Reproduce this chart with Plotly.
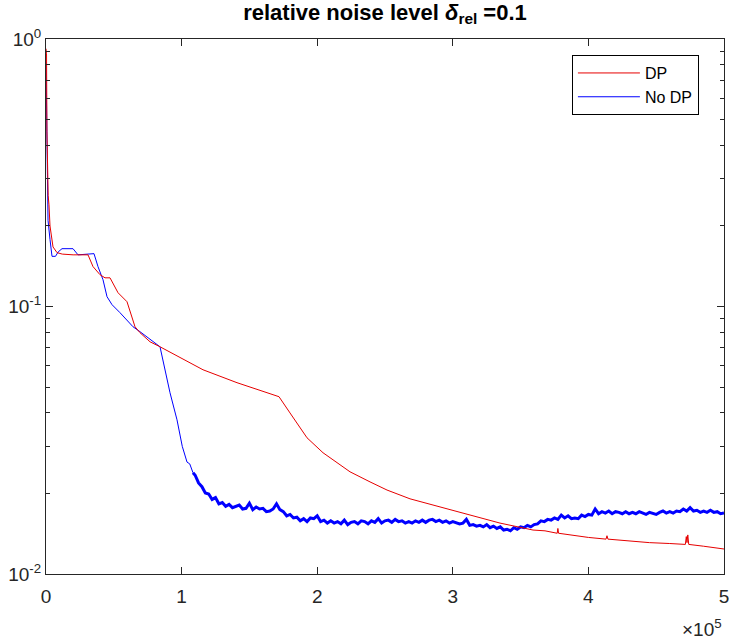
import plotly.graph_objects as go

# ---------------- data ----------------
dp_iter = [0, 400, 700, 1000, 1300, 1600, 2200, 2950, 5162, 8112, 12000, 20000, 30973,
           34661, 39823, 43510, 47198, 53097, 59734, 65634, 69322, 76696, 84071,
           115782, 140855, 171829, 179941, 192478, 204277, 216814, 224189, 238938,
           251475, 268437, 290560, 312684, 334808, 359145, 368000, 377000, 377500,
           378000, 390000, 400000, 413000, 413700, 414400, 430000, 445000, 460000,
           471500, 472200, 472700, 473300, 474000, 485000, 500000]
dp_err = [0.92, 0.88, 0.45, 0.30, 0.36, 0.26, 0.24, 0.20, 0.167, 0.159, 0.157, 0.156, 0.156,
          0.141, 0.1315, 0.128, 0.128, 0.1126, 0.1042, 0.084, 0.0798, 0.0738, 0.0707,
          0.058, 0.0519, 0.046, 0.040, 0.0323, 0.0284, 0.0256, 0.0241, 0.0221,
          0.0206, 0.0191, 0.0178, 0.0166, 0.0155, 0.0146, 0.0145, 0.0142, 0.0148,
          0.0142, 0.0139, 0.0137, 0.0135, 0.0139, 0.0135, 0.0133, 0.0131, 0.0130,
          0.0129, 0.0138, 0.0131, 0.0140, 0.0129, 0.0127, 0.0124]

# "No DP": smooth early part
nodp_iter_early = [0, 400, 740, 1500, 2950, 4425, 7000, 9000, 11800, 19912, 23599, 35398,
                   38348, 42035, 44985, 48673, 54572, 64159, 69322, 84071, 91445, 96608,
                   100500, 102507, 104000, 106000, 108407]
nodp_err_early = [0.82, 0.60, 0.30, 0.21, 0.178, 0.154, 0.154, 0.160, 0.1645, 0.1645, 0.156, 0.1576,
                  0.1409, 0.1259, 0.1088, 0.1016, 0.0948, 0.0840, 0.0805, 0.0707, 0.0476, 0.0377,
                  0.0300, 0.0279, 0.0262, 0.0258, 0.0239]

# "No DP": noisy late part (one value every 2500 iterations from 110000)
nodp_iter_late = [108407] + list(range(110000, 500001, 2500))
nodp_err_late = [0.0239,
    0.0234, 0.0219, 0.0212, 0.0201, 0.0199, 0.0190, 0.0193, 0.0183, 0.0185, 0.0179,
    0.0182, 0.0177, 0.0179, 0.0181, 0.0175, 0.0176, 0.0184, 0.0174, 0.0178, 0.0175,
    0.0176, 0.0171, 0.0172, 0.0175, 0.0183, 0.0174, 0.0171, 0.0165, 0.0167, 0.0162,
    0.0163, 0.0158, 0.0161, 0.0157, 0.0162, 0.0161, 0.0165, 0.0157, 0.0159, 0.0155,
    0.0158, 0.0155, 0.0157, 0.0154, 0.0159, 0.0153, 0.0156, 0.0157, 0.0154, 0.0158,
    0.0157, 0.0154, 0.0158, 0.0156, 0.0161, 0.0155, 0.0158, 0.0159, 0.0156, 0.0160,
    0.0157, 0.0158, 0.0155, 0.0157, 0.0155, 0.0158, 0.0156, 0.0159, 0.0156, 0.0159,
    0.0160, 0.0157, 0.0159, 0.0156, 0.0158, 0.0155, 0.0157, 0.0156, 0.0154, 0.0155,
    0.0160, 0.0152, 0.0153, 0.0151, 0.0152, 0.0150, 0.0153, 0.0149, 0.0151, 0.0148,
    0.0150, 0.0146, 0.0147, 0.0145, 0.0149, 0.0147, 0.0150, 0.0149, 0.0152, 0.0150,
    0.0153, 0.0154, 0.0158, 0.0157, 0.0160, 0.0159, 0.0162, 0.0160, 0.0166, 0.0162,
    0.0165, 0.0161, 0.0162, 0.0161, 0.0166, 0.0164, 0.0167, 0.0166, 0.0175, 0.0168,
    0.0171, 0.0169, 0.0172, 0.0168, 0.0171, 0.0170, 0.0168, 0.0171, 0.0168, 0.0170,
    0.0168, 0.0171, 0.0169, 0.0167, 0.0170, 0.0168, 0.0167, 0.0170, 0.0172, 0.0169,
    0.0171, 0.0169, 0.0172, 0.0171, 0.0175, 0.0172, 0.0177, 0.0172, 0.0173, 0.0170,
    0.0172, 0.0170, 0.0173, 0.0170, 0.0171, 0.0168, 0.0169,
]

x_tickvals = [0, 100000, 200000, 300000, 400000, 500000]
x_ticktext = ["0", "1", "2", "3", "4", "5"]
y_tickvals = [0.01, 0.1, 1]
y_ticktext = ["10<sup>-2</sup>", "10<sup>-1</sup>", "10<sup>0</sup>"]
y_minor = [a * b for b in (0.01, 0.1) for a in range(2, 10)]

title_text = "<b>relative noise level <i>δ</i><sub>rel</sub> =0.1</b>"

# ---------------- figure ----------------
FONT = "Liberation Sans, Arial, sans-serif"
AX = "#262626"
RED = "#e60000"
BLUE = "#0000ff"

fig = go.Figure()
fig.add_trace(go.Scatter(x=nodp_iter_late, y=nodp_err_late, mode="lines", name="No DP",
                         legendgroup="nodp", showlegend=False,
                         line=dict(color=BLUE, width=3)))
fig.add_trace(go.Scatter(x=nodp_iter_early, y=nodp_err_early, mode="lines", name="No DP",
                         legendgroup="nodp", line=dict(color=BLUE, width=1)))
fig.add_trace(go.Scatter(x=dp_iter, y=dp_err, mode="lines", name="DP",
                         line=dict(color=RED, width=1)))

fig.update_layout(
    width=732, height=640,
    margin=dict(l=46, r=8, t=39, b=66),
    paper_bgcolor="white", plot_bgcolor="white",
    font=dict(family=FONT, size=19, color=AX),
    title=dict(text=title_text, x=0.5, xref="paper", y=0.981, yref="container",
               xanchor="center", yanchor="middle",
               font=dict(family=FONT, size=22, color="black")),
    showlegend=True,
    legend=dict(x=0.963, y=0.970, xanchor="right", yanchor="top",
                bordercolor="black", borderwidth=1, bgcolor="white",
                traceorder="reversed", itemwidth=62,
                font=dict(family=FONT, size=16, color="black"),
                tracegroupgap=0),
    annotations=[dict(text="×10<sup>5</sup>", xref="paper", yref="paper",
                      x=1.0, y=-0.100, xanchor="right", yanchor="middle",
                      showarrow=False, font=dict(family=FONT, size=19, color=AX))],
)

fig.update_xaxes(range=[0, 500000], tickvals=x_tickvals, ticktext=x_ticktext,
                 automargin=False, ticklabelstandoff=5,
                 showgrid=False, zeroline=False, showline=True, linecolor=AX, linewidth=1,
                 mirror="ticks", ticks="inside", ticklen=7, tickcolor=AX,
                 tickfont=dict(family=FONT, size=19, color=AX))
fig.update_yaxes(type="log", range=[-2, 0], tickvals=y_tickvals, ticktext=y_ticktext,
                 automargin=False,
                 showgrid=False, zeroline=False, showline=True, linecolor=AX, linewidth=1,
                 mirror="ticks", ticks="inside", ticklen=7, tickcolor=AX,
                 tickfont=dict(family=FONT, size=19, color=AX),
                 minor=dict(tickvals=y_minor, ticks="inside", ticklen=4, tickcolor=AX,
                            showgrid=False))

fig.write_html("out.html", config={"displayModeBar": False},
               post_script="document.body.style.margin='0';document.body.style.padding='0';")
